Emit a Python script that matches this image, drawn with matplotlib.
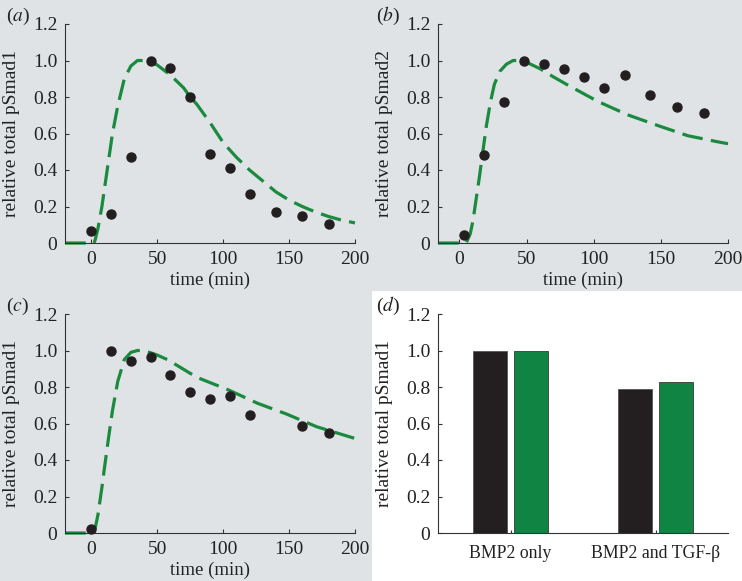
import matplotlib
matplotlib.use("Agg")
import matplotlib.pyplot as plt
from matplotlib.patches import Rectangle

plt.rcParams['font.family'] = ['Liberation Serif', 'DejaVu Serif']
plt.rcParams['mathtext.fontset'] = 'stix'

# ---- data ----
# panel (a): pSmad1, BMP2
a_t = [0, 15, 30, 45, 60, 75, 90, 105, 120, 140, 160, 180]
a_y = [0.064, 0.16, 0.47, 1.0, 0.96, 0.80, 0.49, 0.41, 0.27, 0.17, 0.15, 0.105]
a_curve_t = [-20, 0, 2, 3, 5, 8, 10, 13, 16, 20, 25, 30, 35, 40, 45, 50, 60, 70, 75, 80, 90,
             100, 110, 120, 130, 140, 150, 160, 170, 180, 190, 200]
a_curve_y = [0, 0, 0.0, 0.02, 0.08, 0.2, 0.3, 0.45, 0.6, 0.75, 0.9, 0.97, 1.0, 1.0, 0.995,
             0.975, 0.92, 0.85, 0.80, 0.76, 0.66, 0.55, 0.47, 0.40, 0.34, 0.28, 0.235,
             0.20, 0.17, 0.145, 0.125, 0.11]

# panel (b): pSmad2, TGF-beta
b_t = [3, 18, 33, 48, 63, 78, 93, 108, 123, 142, 162, 182]
b_y = [0.045, 0.48, 0.77, 1.0, 0.98, 0.955, 0.91, 0.85, 0.92, 0.81, 0.745, 0.714]
b_curve_t = [-16, 0, 4, 5, 8, 10, 13, 15, 17, 20, 23, 26, 30, 35, 40, 45, 50, 60, 70, 81,
             103, 125, 148, 170, 192, 200]
b_curve_y = [0, 0, 0, 0.0, 0.05, 0.12, 0.27, 0.37, 0.48, 0.64, 0.77, 0.87, 0.94, 0.98,
             1.0, 1.0, 0.99, 0.955, 0.91, 0.864, 0.776, 0.703, 0.643, 0.588, 0.555, 0.544]

# panel (c): pSmad1, BMP2 + TGF-beta
c_t = [0, 15, 30, 45, 60, 75, 90, 105, 120, 160, 180]
c_y = [0.022, 1.0, 0.94, 0.965, 0.866, 0.775, 0.736, 0.753, 0.645, 0.586, 0.548]
c_curve_t = [-20, 0, 2, 3, 5, 8, 10, 13, 16, 20, 25, 30, 35, 40, 50, 58, 80, 104, 126,
             148, 171, 200]
c_curve_y = [0, 0, 0.0, 0.03, 0.1, 0.25, 0.36, 0.52, 0.67, 0.83, 0.95, 0.99, 1.0, 1.0,
             0.975, 0.949, 0.853, 0.784, 0.711, 0.652, 0.582, 0.518]

# panel (d): bars
d_categories = ['BMP2 only', 'BMP2 and TGF-β']
d_data = [1.0, 0.79]
d_model = [1.0, 0.83]

# ---- style ----
bg = '#dfe3e6'
green = '#1a8a3e'
bar_green = '#0f8443'
black = '#231f20'
fs_tick = 14
fs_xlab = 13.5
fs_ylab = 14
fs_cat = 12.8

fig = plt.figure(figsize=(7.42, 5.81), dpi=100, facecolor=bg)
fig.patches.append(Rectangle((372 / 742, 0), 370 / 742, 290 / 581, transform=fig.transFigure,
                             facecolor='white', edgecolor='none', zorder=-10))

W, H = 742, 581
def axes_px(l, r, t, b):
    return fig.add_axes([l / W, 1 - b / H, (r - l) / W, (b - t) / H])

def style(ax, ylabel):
    ax.set_facecolor('none')
    for s in ['top', 'right']:
        ax.spines[s].set_visible(False)
    for s in ['left', 'bottom']:
        ax.spines[s].set_linewidth(0.8)
        ax.spines[s].set_color('#333333')
    ax.tick_params(direction='in', length=3, width=0.8, labelsize=fs_tick, colors='#333333',
                   labelcolor='#222222', pad=5.5)
    ax.set_ylim(0, 1.2)
    ax.set_yticks([0, 0.2, 0.4, 0.6, 0.8, 1.0, 1.2])
    ax.set_yticklabels(['0', '0.2', '0.4', '0.6', '0.8', '1.0', '1.2'])
    ax.set_ylabel(ylabel, fontsize=fs_ylab, color='#222222', labelpad=9)

def time_panel(ax, t, y, ct, cy, xmin, ylabel):
    style(ax, ylabel)
    ax.plot(ct, cy, color=green, lw=2.3, dashes=(6.5, 2.6), solid_capstyle='butt',
            dash_capstyle='butt', clip_on=False)
    ax.plot(t, y, 'o', color=black, ms=6.5, clip_on=False, zorder=3)
    ax.set_xlim(xmin, 200)
    ax.set_xticks([0, 50, 100, 150, 200])
    ax.set_xlabel('time (min)', fontsize=fs_xlab, color='#222222', labelpad=3)

axa = axes_px(65, 355, 24, 243)
time_panel(axa, a_t, a_y, a_curve_t, a_curve_y, -20, 'relative total pSmad1')
axb = axes_px(438, 728, 24, 243)
time_panel(axb, b_t, b_y, b_curve_t, b_curve_y, -16, 'relative total pSmad2')
axc = axes_px(65, 355, 314, 533)
time_panel(axc, c_t, c_y, c_curve_t, c_curve_y, -20, 'relative total pSmad1')

axd = axes_px(438, 728, 314, 533)
style(axd, 'relative total pSmad1')
pos = [1, 2]
axd.bar([p - 0.142 for p in pos], d_data, width=0.23, color=black, edgecolor='#555555', lw=0.6)
axd.bar([p + 0.142 for p in pos], d_model, width=0.23, color=bar_green, edgecolor='#3a3a3a', lw=0.6)
axd.set_xlim(0.5, 2.5)
axd.set_xticks(pos)
axd.set_xticklabels(d_categories, fontsize=fs_cat)
axd.tick_params(axis='x', length=2, pad=9)

for lbl, x, y in [('a', 6, 16), ('b', 376, 16), ('c', 6, 306), ('d', 376, 306)]:
    fig.text(x / W, 1 - y / H, '(' + r'$\it{' + lbl + '}$' + ')', fontsize=fs_tick, color='#222222',
             va='center', ha='left')

fig.savefig('out.png', dpi=100, facecolor=bg)
